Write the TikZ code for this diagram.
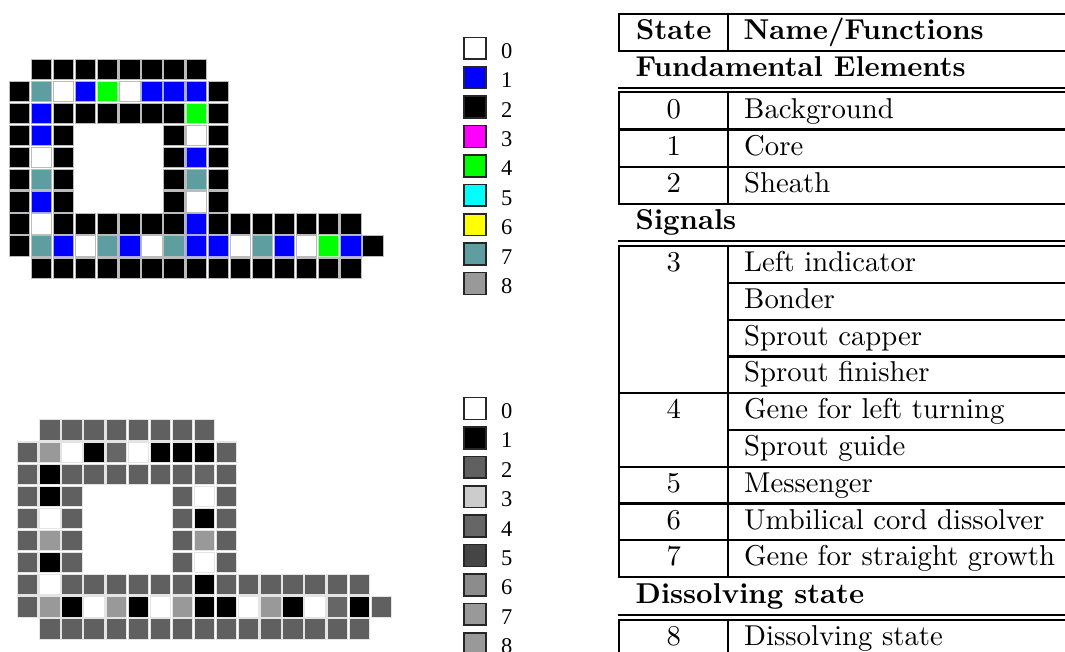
\documentclass[tikz,border=0pt]{standalone}
\usepackage{fontspec}
\newfontfamily\legendfont{Liberation Serif}
\newcommand\tx[1]{\scalebox{2.87}{#1}}
\newcommand\lx[1]{\scalebox{2.25}{\legendfont #1}}

% colour palette (states 0..8)
\definecolor{pa0}{HTML}{FFFFFF}
\definecolor{pa1}{HTML}{0000FF}
\definecolor{pa2}{HTML}{000000}
\definecolor{pa3}{HTML}{FF00FF}
\definecolor{pa4}{HTML}{00FF00}
\definecolor{pa5}{HTML}{00FFFF}
\definecolor{pa6}{HTML}{FFFF00}
\definecolor{pa7}{HTML}{5F9EA0}
\definecolor{pa8}{HTML}{999999}
% cell outlines for the colour grid
\definecolor{ba0}{HTML}{BBBBBB}
\definecolor{ba1}{HTML}{A8A8FF}
\definecolor{ba2}{HTML}{BBBBBB}
\definecolor{ba3}{HTML}{BBBBBB}
\definecolor{ba4}{HTML}{A8FFA8}
\definecolor{ba5}{HTML}{BBBBBB}
\definecolor{ba6}{HTML}{BBBBBB}
\definecolor{ba7}{HTML}{BBBBBB}
\definecolor{ba8}{HTML}{BBBBBB}
% grey palette (states 0..8)
\definecolor{pb0}{HTML}{FFFFFF}
\definecolor{pb1}{HTML}{000000}
\definecolor{pb2}{HTML}{606060}
\definecolor{pb3}{HTML}{CCCCCC}
\definecolor{pb4}{HTML}{666666}
\definecolor{pb5}{HTML}{454545}
\definecolor{pb6}{HTML}{8C8C8C}
\definecolor{pb7}{HTML}{999999}
\definecolor{pb8}{HTML}{999999}
\definecolor{bb}{HTML}{E4E4E4}

% loop layout, one list per row; 9 marks an empty site
\def\cellmap{%
{9,2,2,2,2,2,2,2,2,9,9,9,9,9,9,9,9},%
{2,7,0,1,4,0,1,1,1,2,9,9,9,9,9,9,9},%
{2,1,2,2,2,2,2,2,4,2,9,9,9,9,9,9,9},%
{2,1,2,9,9,9,9,2,0,2,9,9,9,9,9,9,9},%
{2,0,2,9,9,9,9,2,1,2,9,9,9,9,9,9,9},%
{2,7,2,9,9,9,9,2,7,2,9,9,9,9,9,9,9},%
{2,1,2,9,9,9,9,2,0,2,9,9,9,9,9,9,9},%
{2,0,2,2,2,2,2,2,1,2,2,2,2,2,2,2,9},%
{2,7,1,0,7,1,0,7,1,1,0,7,1,0,4,1,2},%
{9,2,2,2,2,2,2,2,2,2,2,2,2,2,2,2,9}}

\begin{document}
\begin{tikzpicture}[x=1pt,y=-1pt,
  cellA/.style={line width=1.1pt, minimum size=20.4pt, inner sep=0pt, outer sep=0pt},
  keybox/.style={draw=black!85, line width=1.6pt, minimum size=21.8pt, inner sep=0pt},
  keylbl/.style={anchor=base, inner sep=0pt},
  tabrule/.style={line width=2.2pt},
  stext/.style={anchor=base, inner sep=0pt},
  nmtext/.style={anchor=base west, inner sep=0pt}]
\useasboundingbox (0,0) rectangle (1065,652);
\clip (0,0) rectangle (1065,652);

% the two grids: colour version and grey version
\foreach \rowvals [count=\ri from 0] in \cellmap {
  \foreach \v [count=\ci from 0] in \rowvals {
    \ifnum\v<9
      \node[cellA, fill=pa\v, draw=ba\v] (ta-\ri-\ci)
        at ({8.3+(\ci+0.5)*22.1},{58.3+(\ri+0.5)*22.1}) {};
      \node[cellA, fill=pb\v, draw=bb] (tb-\ri-\ci)
        at ({16.7+(\ci+0.5)*22.1},{419+(\ri+0.5)*22.1}) {};
    \fi
  }
}

% legends
\foreach \k in {0,...,8} {
  \node[keybox, fill=pa\k] (ka-\k) at (475,{48.4+29.4*\k}) {};
  \node[keylbl] (la-\k) at (506.7,{58.4+29.4*\k}) {\lx{\k}};
  \node[keybox, fill=pb\k] (kb-\k) at (475,{408.4+29.4*\k}) {};
  \node[keylbl] (lb-\k) at (506.7,{418.4+29.4*\k}) {\lx{\k}};
}

% table rules
\def\xL{619.3}\def\xD{728.3}\def\xR{1075}
\foreach \y in {14.3,51,87.7,92.3,129.5,166.7,203.9,241.2,246,393.1,466.7,503.5,540.3,577.1,614.8,619.6}
  \draw[tabrule] ({\xL-1.1},\y) -- (\xR,\y);
\foreach \y in {282.8,319.6,356.4,429.9}
  \draw[tabrule] ({\xD-1.1},\y) -- (\xR,\y);
\foreach \a/\b in {14.3/51,92.3/203.9,246/577.1,619.6/660} {
  \draw[tabrule] (\xL,{\a-1.1}) -- (\xL,{\b+1.1});
  \draw[tabrule] (\xD,{\a-1.1}) -- (\xD,{\b+1.1});
}

% table text
\node[stext] (h-state) at (673.8,39.3) {\tx{\bfseries State}};
\node[nmtext] (h-name) at (743.3,39.3) {\tx{\bfseries Name/Functions}};
\node[nmtext] (sec-fund) at (635.5,76.4) {\tx{\bfseries Fundamental Elements}};
\node[nmtext] (sec-sig) at (635.5,229.9) {\tx{\bfseries Signals}};
\node[nmtext] (sec-dis) at (635.5,603.5) {\tx{\bfseries Dissolving state}};

\foreach \yb/\s in {118.2/0,155.4/1,192.6/2,271.5/3,418.6/4,492.2/5,529/6,565.8/7,645.1/8}
  \node[stext] (st-\s) at (673.8,\yb) {\tx{\s}};

\foreach \yb/\nm [count=\i] in {118.2/Background,155.4/Core,192.6/Sheath,
    271.5/Left indicator,308.3/Bonder,345.1/Sprout capper,381.8/Sprout finisher,
    418.6/Gene for left turning,455.4/Sprout guide,492.2/Messenger,
    529/Umbilical cord dissolver,565.8/Gene for straight growth,645.1/Dissolving state}
  \node[nmtext] (nm-\i) at (744,\yb) {\tx{\nm}};
\end{tikzpicture}
\end{document}
